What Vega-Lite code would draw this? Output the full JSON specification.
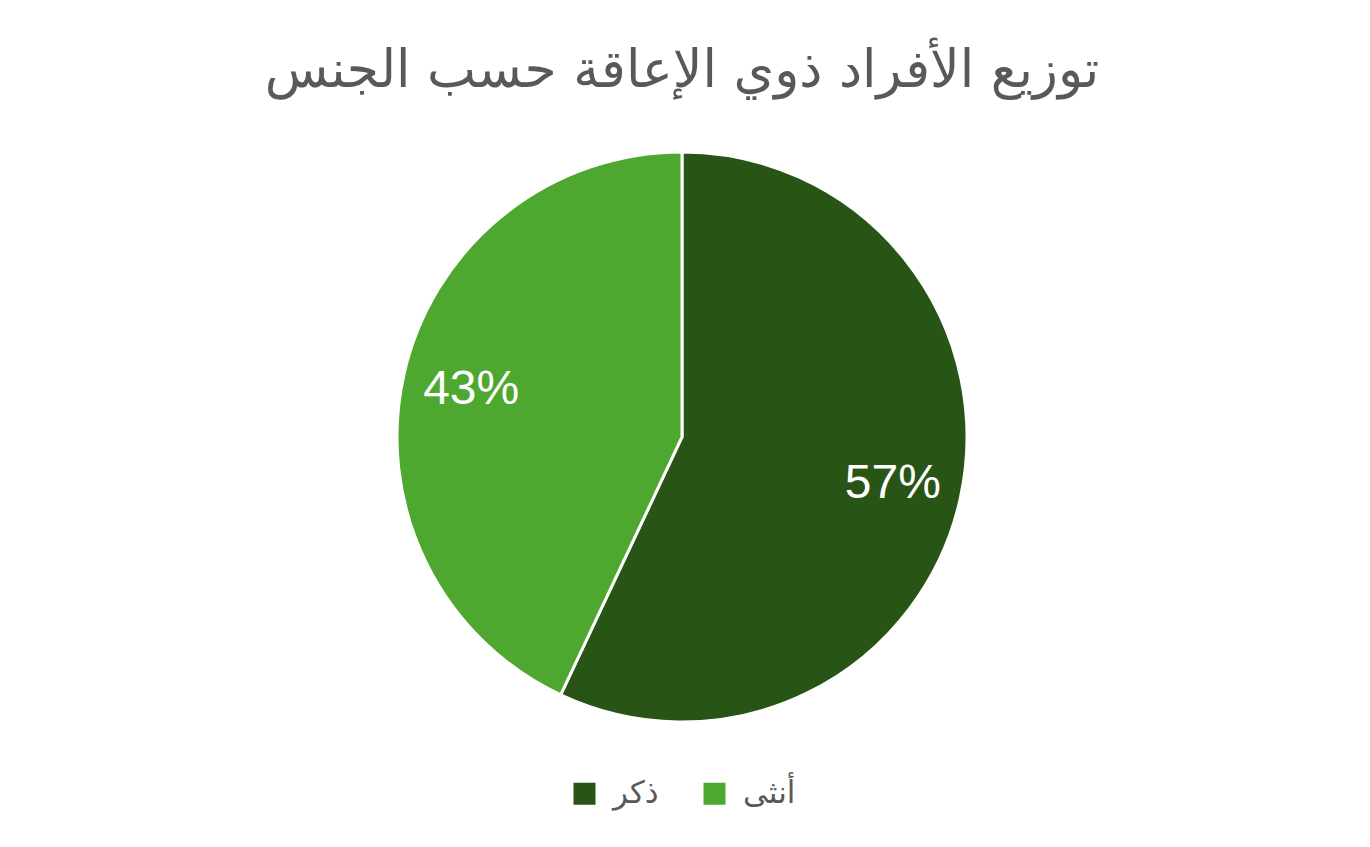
{
  "$schema": "https://vega.github.io/schema/vega-lite/v6.json",
  "autosize": {"type": "none"},
  "width": 570,
  "height": 570,
  "padding": {"left": 397, "top": 152, "right": 403, "bottom": 125},
  "background": "white",
  "config": {"legend": {"layout": {"bottom": {"anchor": "middle"}}}},
  "title": {
    "text": "توزيع الأفراد ذوي الإعاقة حسب الجنس",
    "font": "DejaVu Sans",
    "fontSize": 52,
    "fontWeight": "normal",
    "color": "#595959",
    "anchor": "middle",
    "offset": 48
  },
  "data": {
    "values": [
      {"gender": "ذكر", "value": 57, "label": "57%"},
      {"gender": "أنثى", "value": 43, "label": "43%"}
    ]
  },
  "encoding": {
    "theta": {"field": "value", "type": "quantitative", "stack": true},
    "order": {"field": "value", "sort": "descending"}
  },
  "layer": [
    {
      "mark": {"type": "arc", "outerRadius": 285, "stroke": "white", "strokeWidth": 3},
      "encoding": {
        "color": {
          "field": "gender",
          "type": "nominal",
          "scale": {"domain": ["ذكر", "أنثى"], "range": ["#285416", "#4EA72E"]},
          "legend": {
            "title": null,
            "orient": "bottom",
            "direction": "horizontal",
            "symbolType": "square",
            "symbolSize": 484,
            "symbolStrokeWidth": 0,
            "labelFont": "DejaVu Sans",
            "labelFontSize": 31,
            "labelColor": "#595959",
            "labelOffset": 13,
            "columnPadding": 40,
            "offset": 56
          }
        }
      }
    },
    {
      "mark": {"type": "text", "radius": 216, "fontSize": 48, "font": "Liberation Sans", "color": "white"},
      "encoding": {"text": {"field": "label", "type": "nominal"}}
    }
  ]
}
